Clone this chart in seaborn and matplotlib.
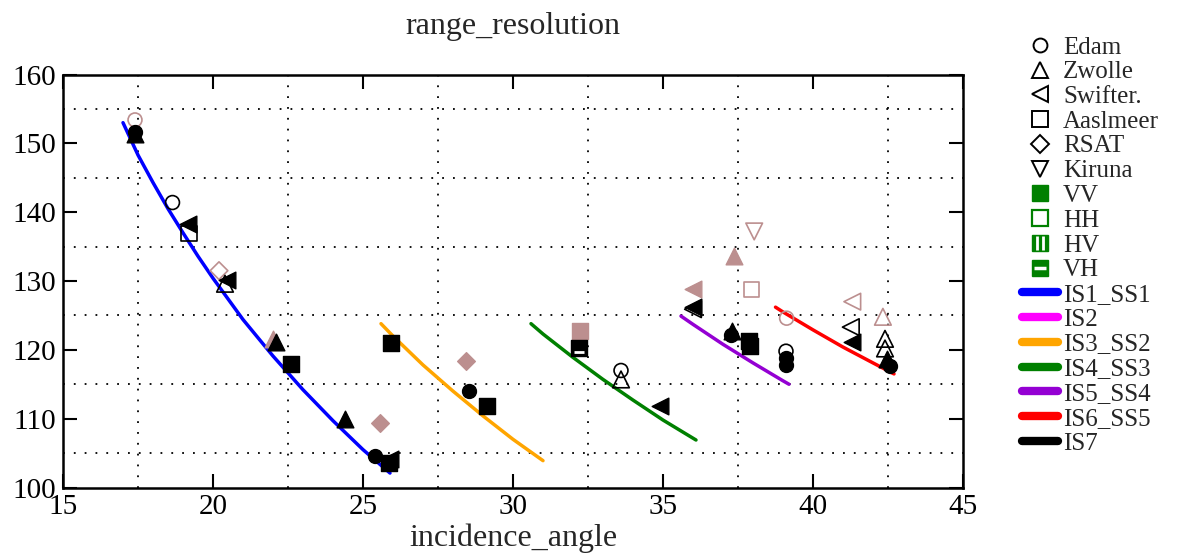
import numpy as np
import pandas as pd
import matplotlib
matplotlib.use("Agg")
import matplotlib.pyplot as plt
from matplotlib.lines import Line2D
from matplotlib.path import Path
from matplotlib.legend_handler import HandlerTuple
import seaborn as sns

# ---------------- data ----------------
# mode curves (incidence angle, range resolution)
is1_x = [17.0, 17.5, 18.0, 18.5, 19.0, 19.5, 20.0, 21.0, 22.0, 23.0, 24.0, 25.0, 25.9]
is1_y = [153.0, 148.3, 144.3, 140.5, 137.0, 133.6, 130.4, 124.4, 119.1, 114.2, 109.7, 105.5, 102.1]
is3_x = [25.6, 26.0, 27.0, 28.0, 29.0, 30.0, 31.0]
is3_y = [123.8, 122.0, 117.8, 114.0, 110.4, 107.0, 103.9]
is4_x = [30.6, 31.0, 32.0, 33.0, 34.0, 35.0, 36.1]
is4_y = [123.8, 122.3, 118.9, 115.7, 112.7, 109.8, 106.9]
is5_x = [35.6, 36.0, 37.0, 38.0, 39.0, 39.2]
is5_y = [124.9, 123.7, 120.8, 118.1, 115.5, 115.0]
is6_x = [38.75, 39.0, 40.0, 41.0, 42.0, 42.7]
is6_y = [126.2, 125.5, 122.9, 120.4, 118.1, 116.5]

# measurements
pt_x = [17.4, 17.4, 17.4, 18.65, 19.15, 19.2, 20.2, 20.45, 20.4,
        22.0, 22.1, 22.6, 24.4, 25.58, 25.4, 25.9, 25.85, 25.92,
        28.43, 28.54, 29.13, 32.23, 32.2, 33.6, 33.6, 34.9,
        36.0, 36.0, 36.0, 38.04, 37.36, 37.95, 39.12,
        37.31, 37.25, 37.85, 37.9, 39.1, 39.1, 39.1,
        41.31, 42.33, 41.26, 41.31, 42.4, 42.4, 42.45, 42.55]
pt_y = [153.4, 151.7, 151.3, 141.4, 138.3, 136.9, 131.5, 130.2, 129.6,
        121.6, 121.1, 117.9, 110.0, 109.3, 104.6, 104.1, 103.6, 121.0,
        118.45, 114.0, 111.8, 122.7, 120.3, 117.0, 115.7, 111.9,
        128.9, 126.2, 125.9, 137.2, 133.7, 128.8, 124.6,
        122.8, 122.1, 121.3, 120.6, 119.8, 118.8, 117.8,
        127.0, 124.8, 123.3, 121.1, 121.6, 120.2, 118.6, 117.6]
pt_site = ["Edam", "Edam", "Zwolle", "Edam", "Swifter.", "Aaslmeer", "RSAT", "Swifter.", "Zwolle",
           "Zwolle", "Zwolle", "Aaslmeer", "Zwolle", "RSAT", "Edam", "Swifter.", "Aaslmeer", "Aaslmeer",
           "RSAT", "Edam", "Aaslmeer", "Aaslmeer", "Aaslmeer", "Edam", "Zwolle", "Swifter.",
           "Swifter.", "Swifter.", "Swifter.", "Kiruna", "Zwolle", "Aaslmeer", "Edam",
           "Zwolle", "Edam", "Aaslmeer", "Aaslmeer", "Edam", "Edam", "Edam",
           "Swifter.", "Zwolle", "Swifter.", "Swifter.", "Zwolle", "Zwolle", "Zwolle", "Edam"]
pt_pol = ["HH", "VV", "VV", "HH", "VV", "HH", "HH", "VV", "HH",
          "VV", "VV", "VV", "VV", "VV", "VV", "VV", "VV", "VV",
          "VV", "VV", "VV", "VV", "VH", "HH", "HH", "VV",
          "VV", "VV", "HH", "HH", "VV", "HH", "HH",
          "VV", "VV", "VV", "VV", "HH", "VV", "VV",
          "HH", "HH", "HH", "VV", "HH", "HH", "VV", "VV"]
pt_grp = ["b", "k", "k", "k", "k", "k", "b", "k", "k",
          "b", "k", "k", "k", "b", "k", "k", "k", "k",
          "b", "k", "k", "b", "k", "k", "k", "k",
          "b", "k", "k", "b", "b", "b", "b",
          "k", "k", "k", "k", "k", "k", "k",
          "b", "b", "k", "k", "k", "k", "k", "k"]

sites = ["Edam", "Zwolle", "Swifter.", "Aaslmeer", "RSAT", "Kiruna"]
pols = ["VV", "HH", "HV", "VH"]
modes = ["IS1_SS1", "IS2", "IS3_SS2", "IS4_SS3", "IS5_SS4", "IS6_SS5", "IS7"]

# ---------------- style ----------------
sns.set_style("ticks")
plt.rcParams["font.family"] = ["Liberation Serif", "DejaVu Serif"]

site_marker = {"Edam": "o", "Zwolle": "^", "Swifter.": "<", "Aaslmeer": "s", "RSAT": "D", "Kiruna": "v"}
site_size = {"o": 10, "^": 12, "<": 12, "s": 11, "D": 9, "v": 12}
grp_color = {"k": "black", "b": "#bc8f8f"}
mode_color = {"IS1_SS1": "#0000ff", "IS2": "#ff00ff", "IS3_SS2": "#ffa500", "IS4_SS3": "#008000",
              "IS5_SS4": "#9400d3", "IS6_SS5": "#ff0000", "IS7": "#000000"}
GREEN = "#008000"

fig = plt.figure(figsize=(11.8, 5.57), dpi=100)
ax = fig.add_axes([63 / 1180, 1 - 487.5 / 557, 900 / 1180, 413 / 557])

# curves
curves = {"IS1_SS1": (is1_x, is1_y), "IS3_SS2": (is3_x, is3_y), "IS4_SS3": (is4_x, is4_y),
          "IS5_SS4": (is5_x, is5_y), "IS6_SS5": (is6_x, is6_y)}
for name, (cx, cy) in curves.items():
    sns.lineplot(x=cx, y=cy, color=mode_color[name], lw=2.5, sort=False, ax=ax,
                 legend=False, zorder=3)

# points
df = pd.DataFrame({"x": pt_x, "y": pt_y, "site": pt_site, "pol": pt_pol, "grp": pt_grp})
for grp in ["b", "k"]:
    for (site, pol), sub in df[df.grp == grp].groupby(["site", "pol"]):
        m = site_marker[site]
        s = site_size[m] ** 2
        c = grp_color[grp]
        if pol == "HH":
            sns.scatterplot(data=sub, x="x", y="y", marker=m, s=s, color=c, facecolor="none",
                            edgecolor=c, linewidth=1.2, ax=ax, legend=False, zorder=4)
        else:
            sns.scatterplot(data=sub, x="x", y="y", marker=m, s=s, color=c, edgecolor=c,
                            linewidth=1.0, ax=ax, legend=False, zorder=4)
            if pol == "VH":
                sns.scatterplot(data=sub, x="x", y=sub["y"] - 0.6, marker="_", s=45, color="white",
                                linewidth=2.0, ax=ax, legend=False, zorder=5)

# axes formatting
ax.set_xlim(15, 45)
ax.set_ylim(100, 160)
ax.set_xticks(np.arange(15, 46, 5))
ax.set_yticks(np.arange(100, 161, 10))
ax.set_xticks(np.arange(17.5, 45, 5), minor=True)
ax.set_yticks(np.arange(105, 160, 10), minor=True)
ax.grid(False)
ax.grid(True, which="minor", color="black", linestyle=(0, (1, 5)), linewidth=1.3)
ax.tick_params(which="major", direction="in", top=True, right=True, length=10, width=1.5,
               labelsize=21, pad=5, colors="black")
ax.tick_params(which="minor", length=0)
for sp in ax.spines.values():
    sp.set_linewidth(1.8)
    sp.set_color("black")
ax.set_xlabel("incidence_angle", fontsize=23, labelpad=2)
ax.set_ylabel("")
ax.set_title("range_resolution", fontsize=23, pad=29)

# legend
bars = Path([(-0.22, -0.6), (-0.22, 0.6), (0.22, -0.6), (0.22, 0.6)],
            [Path.MOVETO, Path.LINETO, Path.MOVETO, Path.LINETO])
handles = []
labels = []
for st in sites:
    handles.append(Line2D([], [], ls="none", marker=site_marker[st], mfc="none", mec="black",
                          mew=1.4, ms=site_size[site_marker[st]] * 1.0))
    labels.append(st)
handles.append(Line2D([], [], ls="none", marker="s", mfc=GREEN, mec=GREEN, ms=11))
labels.append("VV")
handles.append(Line2D([], [], ls="none", marker="s", mfc="none", mec=GREEN, mew=1.6, ms=11))
labels.append("HH")
handles.append((Line2D([], [], ls="none", marker="s", mfc=GREEN, mec=GREEN, ms=11),
                Line2D([], [], ls="none", marker=bars, mec="white", mew=2, ms=10)))
labels.append("HV")
handles.append((Line2D([], [], ls="none", marker="s", mfc=GREEN, mec=GREEN, ms=11),
                Line2D([], [], ls="none", marker="_", mec="white", mew=2.5, ms=9)))
labels.append("VH")
for md in modes:
    handles.append(Line2D([], [], color=mode_color[md], lw=6))
    labels.append(md)

fig.legend(handles, labels, loc="upper left", bbox_to_anchor=(1022 / 1180, 1 - 36 / 557),
           frameon=False, fontsize=18, labelspacing=0.09, handlelength=1.44,
           handletextpad=0.2, borderpad=0, borderaxespad=0,
           handler_map={tuple: HandlerTuple(ndivide=1)})

fig.savefig("out.png", dpi=100)
